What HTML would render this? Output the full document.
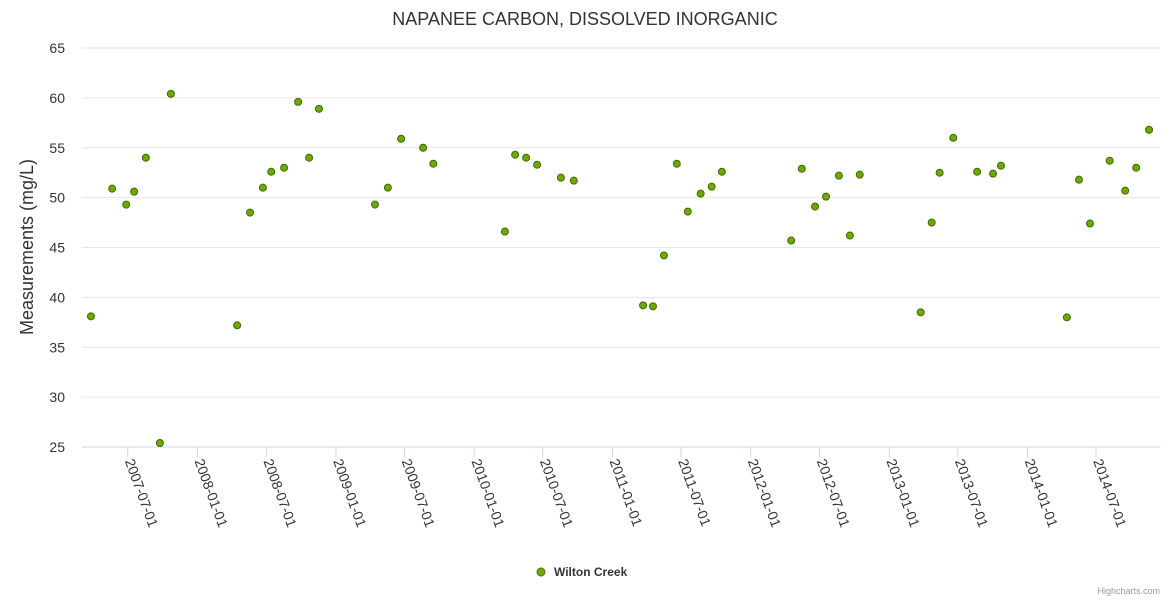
<!DOCTYPE html>
<html><head><meta charset="utf-8"><style>
body{margin:0;background:#fff;}
svg{display:block;font-family:"Liberation Sans","DejaVu Sans",sans-serif;}
</style></head><body>
<svg id="chart" width="1170" height="600" xmlns="http://www.w3.org/2000/svg">
<rect width="1170" height="600" fill="#fff"/>
<text x="585" y="25" text-anchor="middle" font-size="18" fill="#333">NAPANEE CARBON, DISSOLVED INORGANIC</text>
<text transform="translate(33,247) rotate(-90)" text-anchor="middle" font-size="18" fill="#333">Measurements (mg/L)</text>
<g id="grid"></g><g id="xaxis"></g><g id="pts"></g>
<g>
<circle cx="541" cy="572" r="4" fill="#6fa800" stroke="#4a7a00" stroke-width="1"/>
<text x="554" y="576" font-size="12" font-weight="bold" fill="#333">Wilton Creek</text></g>
<text x="1160" y="594" text-anchor="end" font-size="9" fill="#999">Highcharts.com</text>
</svg>
<script>
const dayOffsets=[-97,-41,-4,17,48,85,114,289,323,357,379,413,450,479,505,653,687,722,780,807,996,1023,1052,1081,1144,1178,1361,1387,1416,1450,1479,1513,1542,1569,1752,1780,1815,1844,1878,1907,1933,2094,2123,2144,2180,2243,2285,2306,2480,2512,2541,2593,2634,2663,2697];
const values=[38.1,50.9,49.3,50.6,54.0,25.4,60.4,37.2,48.5,51.0,52.6,53.0,59.6,54.0,58.9,49.3,51.0,55.9,55.0,53.4,46.6,54.3,54.0,53.3,52.0,51.7,39.2,39.1,44.2,53.4,48.6,50.4,51.1,52.6,45.7,52.9,49.1,50.1,52.2,46.2,52.3,38.5,47.5,52.5,56.0,52.6,52.4,53.2,38.0,51.8,47.4,53.7,50.7,53.0,56.8];
const yTicks=[25,30,35,40,45,50,55,60,65];
const xTickLabels=["2007-07-01","2008-01-01","2008-07-01","2009-01-01","2009-07-01","2010-01-01","2010-07-01","2011-01-01","2011-07-01","2012-01-01","2012-07-01","2013-01-01","2013-07-01","2014-01-01","2014-07-01"];
const NS="http://www.w3.org/2000/svg";
const base=Date.UTC(2007,6,1);
const xs=d=>127.7+d*0.3787;
const ys=v=>447-(v-25)*9.975;
function mk(t,a,p){const e=document.createElementNS(NS,t);for(const k in a)e.setAttribute(k,a[k]);p.appendChild(e);return e;}
const grid=document.getElementById('grid');
yTicks.forEach(v=>{
  const l=mk('line',{x1:82,x2:1160,y1:ys(v),y2:ys(v),stroke:v===25?'#ccd6eb':'#e6e6e6','stroke-width':1},grid);
  
  
  const t=mk('text',{x:65,y:ys(v)+5,'text-anchor':'end','font-size':14,fill:'#333'},grid);
  t.textContent=v;
  
  
});
const xa=document.getElementById('xaxis');
xTickLabels.forEach(s=>{
  const p=s.split('-').map(Number);
  const d=(Date.UTC(p[0],p[1]-1,p[2])-base)/86400000;
  const x=xs(d);
  const tk=mk('line',{x1:x,x2:x,y1:447,y2:457,stroke:'#ccd6eb'},xa);
  
  
  const t=mk('text',{transform:`translate(${x-3},${461}) rotate(70)`,'font-size':14,fill:'#333'},xa);
  t.textContent=s;
  
  
});
const pts=document.getElementById('pts');
dayOffsets.forEach((d,i)=>{
  const c=mk('circle',{cx:xs(d),cy:ys(values[i]),r:3.5,fill:'#6fa800',stroke:'#3f6a00','stroke-width':1},pts);
  
  
});
</script>
</body></html>
